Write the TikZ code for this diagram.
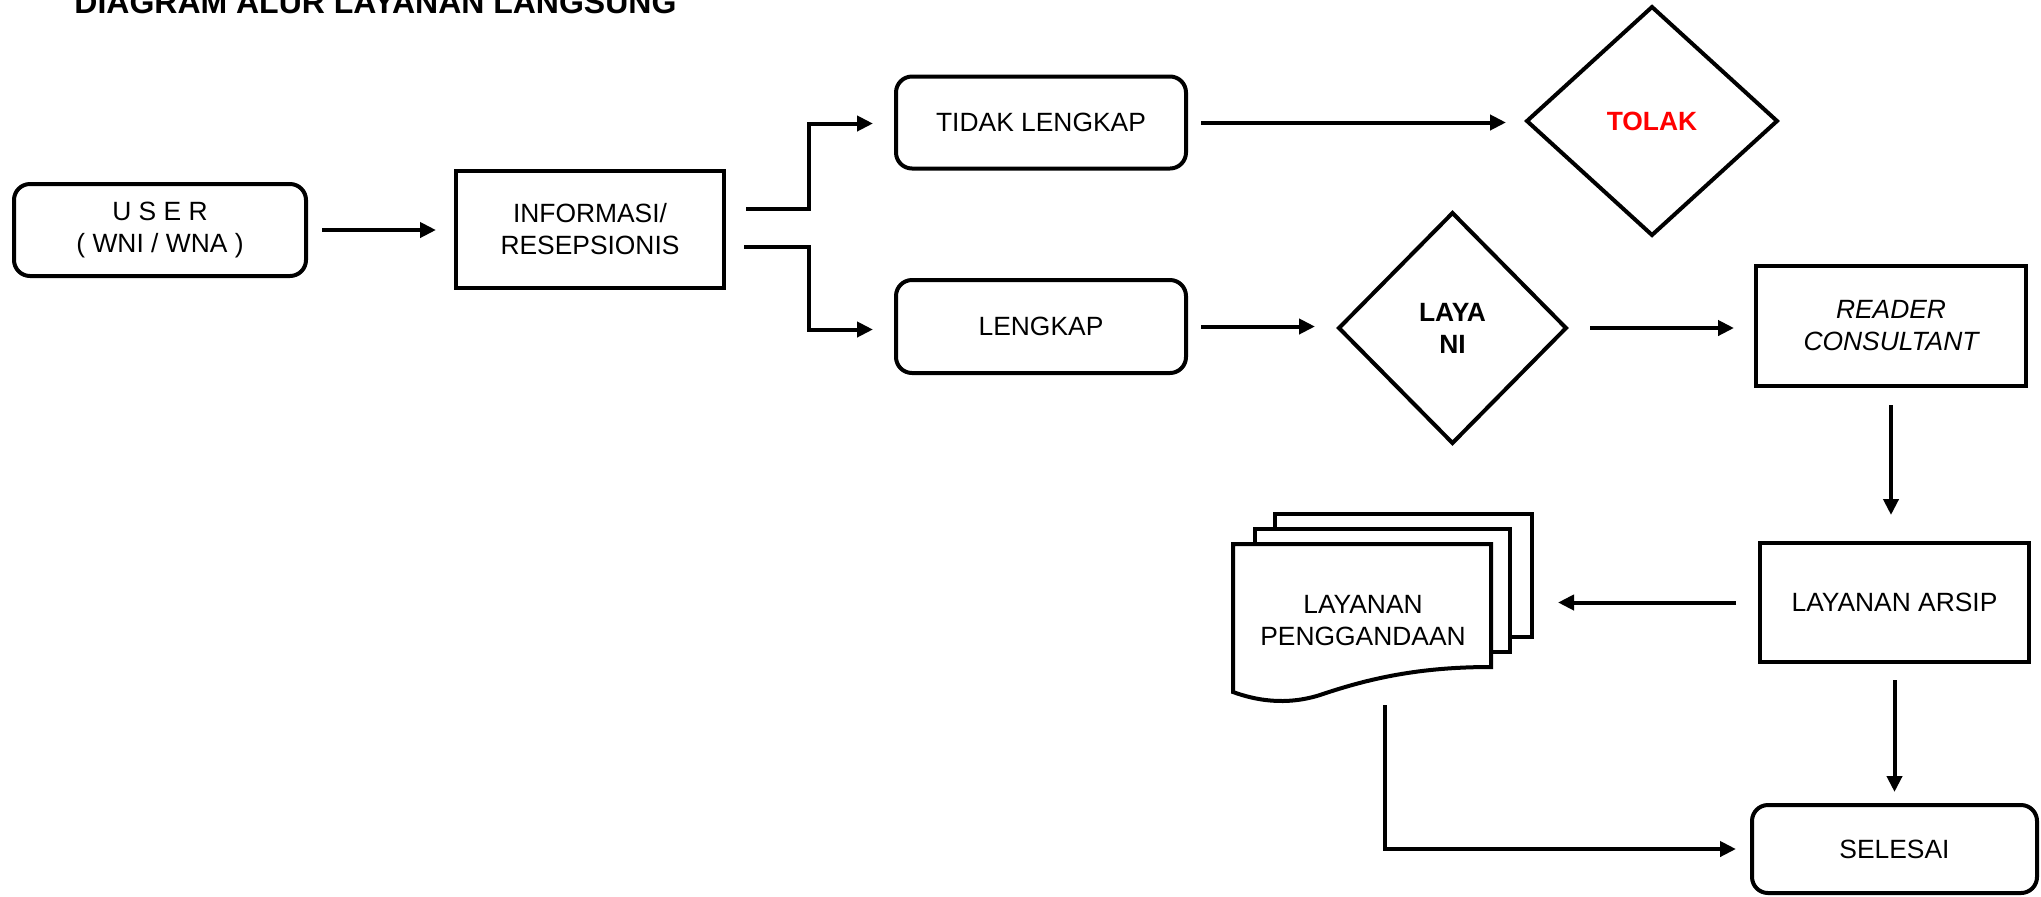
\documentclass[tikz,border=0pt]{standalone}
\usepackage{fontspec}
\setmainfont{Liberation Sans}
\usetikzlibrary{shapes.geometric,arrows.meta,calc}
\tikzset{
  base/.style={draw, line width=2pt, outer sep=0pt, inner sep=0pt, align=center,
    font=\fontsize{13.2}{16}\selectfont},
  rbox/.style={base, rounded corners=8pt},
  sbox/.style={base},
  dia/.style={base, diamond},
  arr/.style={line width=2pt, -{Triangle[length=8pt,width=7.5pt]}},
  doc/.style={line width=2pt, fill=white, line join=miter},
}
\begin{document}
\begin{tikzpicture}[x=0.5pt,y=-0.5pt]
\useasboundingbox (0,0) rectangle (2041,896);
% title
\node[anchor=base west, inner sep=0pt, font=\bfseries\fontsize{16}{19}\selectfont] (title) at (74,13) {DIAGRAM ALUR LAYANAN LANGSUNG};
% nodes
\node[rbox, minimum width=146pt, minimum height=46pt] (user) at (160,230) {U S E R\\( WNI / WNA )};
\node[sbox, minimum width=134pt, minimum height=58.5pt] (info) at (590,229.5) {INFORMASI/\\RESEPSIONIS};
\node[rbox, minimum width=145pt, minimum height=46pt] (tidak) at (1041,122.5) {TIDAK LENGKAP};
\node[rbox, minimum width=145pt, minimum height=46.5pt] (lengkap) at (1041,326.5) {LENGKAP};
\node[dia, minimum width=125pt, minimum height=114pt, text=red, font=\bfseries\fontsize{13.2}{16}\selectfont] (tolak) at (1652,121) {TOLAK};
\node[dia, minimum width=113.5pt, minimum height=115pt, font=\bfseries\fontsize{13.2}{16}\selectfont] (layani) at (1452.5,328) {LAYA\\NI};
\node[sbox, minimum width=135pt, minimum height=60pt, font=\itshape\fontsize{13.2}{16}\selectfont] (reader) at (1891,326) {READER\\CONSULTANT};
\node[sbox, minimum width=134.5pt, minimum height=59.5pt] (arsip) at (1894.5,602.5) {LAYANAN ARSIP};
\node[rbox, minimum width=142.5pt, minimum height=44pt] (selesai) at (1894.5,849) {SELESAI};
% document stack
\node[minimum width=149.5pt, minimum height=93pt, inner sep=0pt, outer sep=0pt] (stack) at (1382.5,607) {};
\draw[doc] (1275,514) rectangle (1532,637);
\draw[doc] (1255,529) rectangle (1510,652);
\draw[doc] (1233,544) -- (1491,544) -- (1491,667)
  .. controls (1420,667) and (1370,678) .. (1320,695)
  .. controls (1285,706) and (1255,700) .. (1233,692) -- cycle;
\node[inner sep=0pt, align=center, font=\fontsize{13.2}{16}\selectfont] (dup) at (1363,621) {LAYANAN\\PENGGANDAAN};
% connectors
\draw[arr, shorten <=8pt, shorten >=10pt] (user.east) -- (user.east -| info.west);
\draw[arr] ($(info.east)+(22,-21)$) -- ++(63,0) |- ($(tidak.west)+(-23,1)$);
\draw[arr] ($(info.east)+(20,17)$) -- ++(65,0) |- ($(lengkap.west)+(-23,3)$);
\draw[arr, shorten <=7.5pt, shorten >=10.5pt] (tidak.east) -- (tidak.east -| tolak.west);
\draw[arr, shorten <=7.5pt, shorten >=12pt] (lengkap.east) -- (lengkap.east -| layani.west);
\draw[arr, shorten <=12pt, shorten >=11pt] (layani.east) -- (layani.east -| reader.west);
\draw[arr, shorten <=9.5pt, shorten >=14pt] (reader.south) -- (reader.south |- arsip.north);
\draw[arr, shorten <=12pt, shorten >=13pt] (arsip.west) -- (arsip.west -| stack.east);
\draw[arr, shorten <=9pt, shorten >=6.5pt] (arsip.south) -- (arsip.south |- selesai.north);
\draw[arr, shorten >=8pt] ($(stack.south)+(2.5,5)$) |- (selesai.west);
\end{tikzpicture}
\end{document}
